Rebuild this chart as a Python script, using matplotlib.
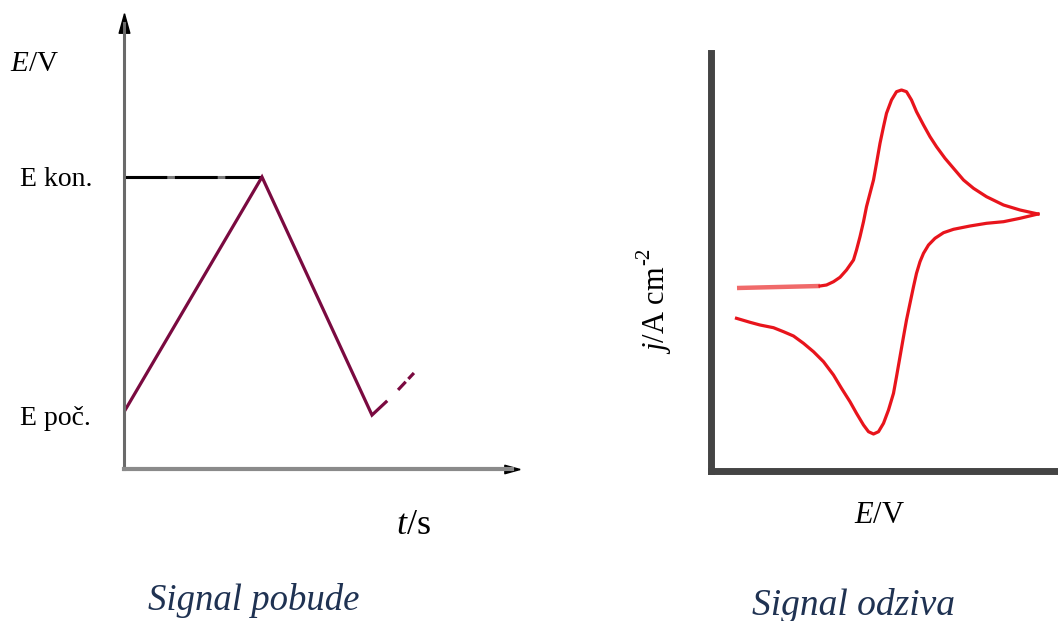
import matplotlib
matplotlib.use("Agg")
import matplotlib.pyplot as plt

# excitation signal (left): time in units of the first sweep, E between E poc (0) and E kon (1)
t_sweep = [0.0, 1.0, 1.797, 1.899]
E_sweep = [0.0, 1.0, -0.013, 0.043]
t_tail = [1.986, 2.101]
E_tail = [0.094, 0.166]
E_kon_t = [0.0, 1.0]
E_kon_E = [1.0, 1.0]
level_labels = ["E kon.", "E poč."]

# response signal (right): cyclic voltammogram, forward and reverse scan
E_start = [-0.2, -0.034]
j_start = [0.0, 0.02]
E_fwd = [-0.034, -0.021, -0.007, 0.006, 0.019, 0.033, 0.039, 0.046, 0.053, 0.059,
         0.066, 0.073, 0.079, 0.086, 0.093, 0.099, 0.109, 0.119, 0.129, 0.139,
         0.149, 0.159, 0.173, 0.186, 0.199, 0.216, 0.233, 0.253, 0.273, 0.299,
         0.333, 0.366, 0.402]
j_fwd = [0.02, 0.03, 0.063, 0.107, 0.18, 0.28, 0.38, 0.513, 0.663, 0.813,
         0.947, 1.08, 1.247, 1.447, 1.613, 1.747, 1.88, 1.963, 1.98, 1.963,
         1.88, 1.763, 1.63, 1.513, 1.413, 1.297, 1.197, 1.08, 0.997, 0.913,
         0.83, 0.78, 0.74]
E_rev = [0.402, 0.366, 0.333, 0.299, 0.266, 0.233, 0.213, 0.196, 0.183, 0.173,
         0.166, 0.159, 0.153, 0.146, 0.139, 0.133, 0.126, 0.119, 0.113, 0.103,
         0.093, 0.083, 0.073, 0.063, 0.053, 0.039, 0.026, 0.009, -0.007, -0.027,
         -0.047, -0.067, -0.087, -0.107, -0.127, -0.154, -0.174, -0.201]
j_rev = [0.74, 0.697, 0.663, 0.647, 0.62, 0.587, 0.553, 0.497, 0.43, 0.347,
         0.263, 0.147, 0.013, -0.153, -0.32, -0.487, -0.687, -0.887, -1.053, -1.22,
         -1.353, -1.437, -1.46, -1.437, -1.37, -1.253, -1.137, -1.003, -0.87, -0.737,
         -0.637, -0.553, -0.48, -0.437, -0.397, -0.37, -0.343, -0.303]

W, H = 1058, 621
plt.rcParams['font.family'] = ['Liberation Serif', 'DejaVu Serif']
plt.rcParams['mathtext.fontset'] = 'custom'
plt.rcParams['mathtext.rm'] = 'Liberation Serif'
plt.rcParams['mathtext.it'] = 'Liberation Serif:italic'

fig = plt.figure(figsize=(W / 100, H / 100), dpi=100)


def fx(px):
    return px / W


def fy(py):
    return 1 - py / H


# ---- left panel
ax1 = fig.add_axes([fx(124), fy(469), fx(512 - 124), (469 - 23) / H])
ax1.set_xlim(0, 388 / 138)
ax1.set_ylim(-57 / 235, 389 / 235)
for s in ['top', 'right']:
    ax1.spines[s].set_visible(False)
ax1.spines['left'].set_color('#6a6a6a')
ax1.spines['left'].set_linewidth(2.2)
ax1.spines['bottom'].set_color('#8a8a8a')
ax1.spines['bottom'].set_linewidth(3.0)
ax1.set_xticks([])
ax1.set_yticks([])
tri_up = [(0, 1), (-0.55, -1), (0.55, -1), (0, 1)]
tri_right = [(1, 0), (-1, 0.55), (-1, -0.55), (1, 0)]
ax1.plot([0], [1], marker=tri_up, ms=14, color='black', transform=ax1.transAxes, clip_on=False)
ax1.plot([1], [0], marker=tri_right, ms=11, color='black', transform=ax1.transAxes, clip_on=False)

ax1.plot(E_kon_t, E_kon_E, color='#7a7a7a', lw=2.2, solid_capstyle='butt')
ax1.plot(E_kon_t, E_kon_E, color='black', lw=2.2, ls=(0, (14, 2.5)), solid_capstyle='butt')
ax1.plot(t_sweep, E_sweep, color='#7a0a40', lw=2.3, solid_joinstyle='miter')
ax1.plot(t_tail, E_tail, color='#7a0a40', lw=2.3, ls=(0, (3.5, 1.2)))

fig.text(fx(10), fy(71), '$E$/V', fontsize=21, ha='left', va='baseline')
fig.text(fx(20), fy(186), level_labels[0], fontsize=20, ha='left', va='baseline')
fig.text(fx(20), fy(425), level_labels[1], fontsize=20, ha='left', va='baseline')
fig.text(fx(396), fy(534), '$t$/s', fontsize=26, ha='left', va='baseline')
fig.text(fx(148), fy(610), 'Signal pobude', fontsize=26.5, style='italic',
         color='#1f3252', ha='left', va='baseline')

# ---- right panel
ax2 = fig.add_axes([fx(711), fy(471), fx(W - 711), (471 - 53) / H])
ax2.set_xlim(-0.252, 0.442)
ax2.set_ylim(-1.83, 2.35)
for s in ['top', 'right']:
    ax2.spines[s].set_visible(False)
for s in ['left', 'bottom']:
    ax2.spines[s].set_color('#444444')
    ax2.spines[s].set_linewidth(5)
ax2.set_xticks([])
ax2.set_yticks([])

ax2.plot(E_start, j_start, color='#f06a6a', lw=3.2, solid_capstyle='butt')
ax2.plot(E_fwd, j_fwd, color='#e8141c', lw=2.3)
ax2.plot(E_rev, j_rev, color='#e8141c', lw=2.3)

fig.text(fx(657), fy(310), '$j$/A cm', fontsize=22, rotation=90,
         ha='center', va='center')
fig.text(fx(645), fy(256), '-2', fontsize=15, rotation=90,
         ha='center', va='center')
fig.text(fx(880), fy(523), '$E$/V', fontsize=22, ha='center', va='baseline')
fig.text(fx(752), fy(615), 'Signal odziva', fontsize=27, style='italic',
         color='#1f3252', ha='left', va='baseline')

fig.savefig('out.png', dpi=100)
